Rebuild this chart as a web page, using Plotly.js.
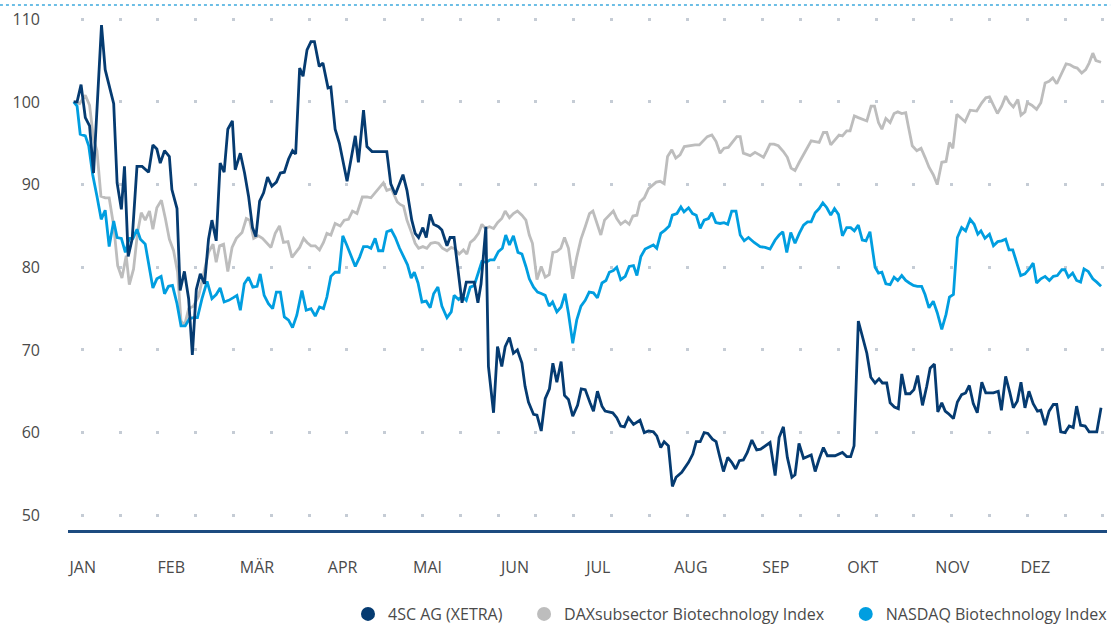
<!DOCTYPE html>
<html>
<head>
<meta charset="utf-8">
<script src="https://cdn.plot.ly/plotly-3.0.1.min.js"></script>
<style>
  html, body { margin: 0; padding: 0; background: #ffffff; }
  #chart { width: 1115px; height: 625px; }
</style>
</head>
<body>
<div id="chart"></div>
<script>
// Month labels (German) and day-of-year of each month start (2016, leap year)
const monthLabels = ["JAN", "FEB", "MÄR", "APR", "MAI", "JUN", "JUL", "AUG", "SEP", "OKT", "NOV", "DEZ"];
const monthStarts = [0, 31, 60, 91, 121, 152, 182, 213, 244, 274, 305, 335];
const yTicks = [50, 60, 70, 80, 90, 100, 110];

const seriesNames = ["4SC AG (XETRA)", "DAXsubsector Biotechnology Index", "NASDAQ Biotechnology Index"];

// 4SC AG (XETRA), indexed, day of year
const days4sc = [2.0,3.2,4.6,6.1,7.6,9.0,10.4,11.8,13.1,14.6,16.1,17.3,18.8,19.9,21.2,22.6,24.3,26.1,28.4,29.9,31.3,32.5,34.0,35.7,36.6,38.4,39.5,41.0,42.5,43.8,45.2,46.6,48.1,49.5,50.7,52.2,53.6,55.0,56.3,57.9,58.9,60.7,62.2,63.6,65.0,66.2,67.5,68.9,70.3,71.8,73.4,74.8,76.2,77.7,79.1,80.2,81.6,82.8,84.2,85.6,86.8,88.5,89.8,91.6,92.6,94.1,95.6,98.3,100.0,101.2,102.3,104.1,105.3,107.1,112.3,113.7,115.3,118.0,119.4,121.1,122.3,123.5,125.0,126.2,127.6,128.8,130.5,131.7,133.5,134.6,136.0,137.2,138.8,140.3,143.1,144.4,145.5,147.2,148.1,149.9,151.3,152.8,154.0,155.5,156.9,158.3,159.9,161.0,162.2,164.0,165.2,166.7,168.1,169.6,170.8,172.2,173.7,174.9,176.3,177.8,179.5,180.8,182.2,183.9,185.1,186.5,188.1,189.2,191.9,193.3,194.7,196.0,197.4,199.2,201.5,203.0,204.5,206.2,207.4,208.8,210.0,211.5,212.9,214.2,216.2,218.6,220.1,221.3,222.7,224.1,225.4,227.0,228.3,229.5,230.9,232.4,233.8,235.2,236.5,237.9,239.3,240.9,242.6,244.0,245.6,247.3,249.1,250.5,252.0,253.4,255.0,256.1,257.5,259.1,261.8,263.2,264.6,266.1,267.5,270.2,272.8,274.3,275.7,276.9,278.4,279.8,281.4,282.8,284.3,285.7,286.9,288.4,289.6,291.1,292.5,293.7,295.1,296.6,298.0,299.3,301.0,302.5,303.7,305.2,306.4,307.8,309.0,310.1,311.9,313.3,314.8,316.2,317.5,318.9,320.3,321.9,323.3,326.0,327.7,328.8,330.3,331.8,333.0,334.4,335.7,337.1,338.5,340.0,341.5,342.7,344.2,345.6,347.1,348.3,349.7,351.2,352.7,354.1,355.3,356.7,358.3,359.7,362.4,363.9];
const values4sc = [100.0,100.0,102.1,98.1,97.1,91.4,100.3,109.3,103.9,101.7,99.8,90.2,87.0,92.2,81.3,83.4,92.2,92.2,91.5,94.8,94.3,92.6,94.1,93.4,89.4,87.1,77.2,79.5,76.2,69.4,77.3,79.2,78.0,83.4,85.7,83.2,92.6,91.5,96.7,97.7,91.8,93.8,91.4,88.6,84.8,83.7,88.0,89.0,90.9,89.8,90.3,91.4,91.5,93.1,94.1,93.7,104.1,103.1,106.3,107.3,107.3,104.3,104.7,101.7,101.8,96.7,95.0,90.4,93.5,95.9,92.7,99.0,94.6,94.0,94.0,90.1,88.8,91.2,89.3,85.7,84.1,83.6,84.8,83.6,86.4,85.2,84.9,84.5,82.6,83.6,83.6,80.1,75.7,78.2,78.2,75.7,78.0,84.9,68.0,62.4,70.4,68.0,70.4,71.5,69.6,70.0,68.4,65.6,63.7,62.2,62.1,60.2,64.1,65.3,68.4,66.1,68.6,64.5,64.0,62.0,63.3,65.3,65.2,63.6,62.6,65.0,63.2,62.6,62.4,61.8,60.8,60.7,61.8,61.0,61.5,60.0,60.2,60.1,59.6,58.2,58.9,58.4,53.5,54.6,55.2,56.4,57.4,58.9,58.9,60.0,59.9,59.2,58.9,57.2,55.3,57.0,56.4,55.6,56.6,56.7,57.6,59.1,57.9,58.0,58.4,58.8,54.8,59.4,60.7,57.0,54.6,54.9,58.7,56.9,57.3,55.3,56.8,58.2,57.2,57.2,57.6,57.1,57.1,58.4,73.5,71.5,69.6,66.7,66.0,66.5,66.0,66.0,63.6,63.1,62.9,67.1,64.7,64.7,65.2,66.9,63.3,65.6,67.8,68.3,62.5,63.6,62.6,62.3,61.7,63.7,64.6,64.8,65.7,63.5,62.4,66.1,64.8,64.8,65.0,62.7,66.8,64.8,63.0,63.8,66.1,63.0,65.0,63.5,62.6,62.7,60.9,62.6,63.4,63.4,60.1,60.0,60.8,60.6,63.2,60.9,60.8,60.1,60.1,63.0];

// DAXsubsector Biotechnology Index, indexed
const daysDax = [2.0,4.1,6.1,7.6,9.0,10.2,11.6,13.1,14.5,16.1,17.5,19.0,20.5,21.6,23.1,24.5,25.8,27.2,28.7,29.9,31.3,32.9,34.3,35.7,37.2,38.6,39.8,41.1,42.5,44.2,46.0,49.5,51.1,52.2,53.4,54.8,56.3,57.8,59.3,61.3,62.8,64.0,65.4,67.1,68.5,69.8,71.5,73.0,74.5,75.9,77.5,78.9,80.3,81.6,83.0,84.2,85.6,87.1,88.6,90.0,91.2,92.6,94.1,95.9,97.3,98.8,100.2,101.8,103.7,105.3,106.7,108.2,109.7,111.1,112.3,113.9,116.0,117.0,118.2,119.4,121.1,122.3,123.5,125.0,126.4,127.8,129.3,130.5,131.9,133.5,135.0,136.4,137.8,139.3,140.5,141.7,143.1,144.6,145.8,147.0,148.5,149.9,151.3,152.8,154.0,155.5,156.9,158.3,159.9,161.3,162.5,163.6,165.2,166.7,168.1,169.5,170.8,172.2,173.6,174.9,176.3,177.8,179.2,180.7,182.2,183.7,184.9,186.3,187.7,189.0,190.6,192.1,193.3,194.7,196.3,197.7,199.0,200.4,201.5,203.0,204.5,205.9,207.2,208.6,210.0,211.2,212.7,214.1,215.6,217.1,218.6,219.7,220.9,222.4,223.8,225.2,226.8,228.3,229.7,231.1,232.6,234.0,235.6,236.8,237.9,240.3,242.0,243.6,245.0,246.2,247.3,248.7,250.2,252.0,253.4,254.7,256.1,257.6,259.1,260.5,261.8,263.2,264.6,266.1,267.3,268.7,270.2,271.6,272.8,274.3,275.5,277.0,278.4,279.8,281.4,282.9,284.1,285.5,286.7,288.1,289.6,291.0,292.3,293.7,295.1,296.0,297.4,299.0,300.5,301.9,303.3,304.8,306.2,307.8,309.3,310.5,311.7,313.1,314.5,316.0,317.8,320.1,321.9,323.3,324.6,326.0,327.4,328.9,330.3,331.6,333.0,334.6,335.7,337.1,337.9,339.5,341.2,342.7,344.2,345.6,346.9,348.3,349.8,351.6,353.0,354.4,355.5,357.1,358.5,359.7,361.0,362.1,363.9];
const valuesDax = [100.0,99.8,100.8,99.6,95.5,94.1,88.6,88.4,88.4,85.0,80.2,78.7,81.4,77.9,79.8,84.2,86.6,85.7,86.8,84.6,87.2,88.1,85.9,83.4,82.0,79.4,73.5,73.0,75.0,75.3,76.5,81.8,82.8,80.6,82.6,82.8,79.5,82.4,83.5,84.2,85.9,85.7,83.5,83.8,83.5,83.0,82.4,84.1,85.0,83.0,83.1,81.2,81.9,82.4,83.5,83.0,82.6,82.6,82.1,83.0,84.1,83.9,85.3,85.0,85.7,85.8,86.8,86.5,88.5,88.5,88.4,89.0,89.7,90.2,89.3,89.5,87.9,87.6,87.4,85.7,84.1,82.9,82.3,82.5,82.3,82.9,83.0,82.9,82.3,82.0,82.4,82.2,81.6,82.1,81.6,83.0,83.4,84.1,85.2,84.7,84.9,84.7,85.4,85.9,86.8,86.0,86.5,86.8,86.3,85.7,83.9,82.9,78.5,80.1,78.8,79.1,81.8,81.9,82.3,83.6,82.3,78.6,81.2,83.4,84.9,86.5,86.8,85.3,83.9,85.7,86.3,86.8,85.9,85.2,85.6,85.2,86.2,86.3,87.9,88.4,89.5,89.9,90.3,90.4,90.1,93.4,94.2,93.2,93.6,94.6,94.7,94.8,94.8,94.8,95.3,95.8,96.0,95.2,93.8,94.4,94.5,95.1,95.8,95.8,93.8,93.5,93.9,93.6,93.3,94.1,94.9,94.9,94.7,94.0,93.3,92.0,91.7,92.7,93.6,94.6,95.3,95.2,95.1,96.3,96.3,94.8,95.4,96.0,95.9,96.5,96.5,98.3,98.1,97.9,97.7,99.5,99.5,97.5,96.7,98.0,97.5,98.6,98.8,98.6,98.7,97.1,94.7,94.1,94.4,93.3,92.1,91.2,90.0,92.7,92.8,95.1,94.4,98.5,98.1,97.6,99.0,98.9,99.9,100.5,100.6,99.5,98.6,99.5,100.7,99.9,99.4,100.3,98.4,98.8,99.9,99.6,99.1,99.9,102.3,102.5,102.9,102.2,103.3,104.6,104.5,104.2,104.1,103.5,103.9,104.7,105.9,105.0,104.8];

// NASDAQ Biotechnology Index, indexed
const daysNbi = [2.0,3.2,4.3,6.1,7.3,8.7,10.2,11.7,13.1,14.5,16.1,17.3,18.8,20.2,21.6,22.9,24.3,25.5,27.2,28.4,29.9,31.3,32.8,34.0,35.4,36.8,38.4,39.8,41.3,42.8,44.2,45.6,47.2,49.0,50.7,52.2,53.6,55.0,56.6,58.1,59.5,60.7,62.1,63.6,65.1,66.6,67.7,69.1,70.6,72.1,73.4,74.8,76.2,77.7,79.1,80.6,82.4,83.9,85.6,87.1,88.6,90.0,91.2,92.6,94.1,95.5,96.8,98.3,99.7,101.2,102.7,104.1,105.5,106.7,108.2,109.4,110.9,112.3,113.9,115.3,116.8,118.2,119.6,120.9,122.0,123.3,124.7,126.2,127.6,128.8,130.3,131.7,133.5,135.0,136.0,137.6,138.8,140.3,141.7,143.1,144.6,145.8,147.3,148.7,150.1,151.6,153.0,154.2,155.5,156.9,158.5,159.9,161.3,162.5,164.0,165.4,166.9,168.1,169.5,170.7,172.2,173.7,175.1,176.3,177.8,179.2,180.7,182.2,183.6,185.1,186.5,188.1,189.5,190.7,192.1,193.3,194.7,196.3,197.7,199.2,200.4,201.8,203.3,204.8,206.2,207.4,208.8,210.3,211.8,212.9,214.5,215.9,217.0,218.6,220.0,221.3,222.7,224.1,225.6,226.8,228.2,229.7,231.1,232.4,233.8,235.3,236.8,238.2,239.7,241.7,243.8,245.6,247.3,249.1,250.5,251.8,253.2,254.6,256.1,257.6,259.1,260.5,261.8,263.2,264.6,265.9,267.3,268.7,270.0,271.4,272.8,274.3,275.7,277.0,278.4,279.8,281.1,282.5,284.3,285.5,286.7,288.1,289.6,291.0,292.3,293.7,295.1,296.4,297.8,299.2,300.7,301.9,303.3,304.8,306.2,307.8,309.3,310.5,311.9,313.3,314.8,316.2,317.8,319.2,320.5,321.6,323.0,324.6,326.0,327.5,328.9,330.3,331.5,332.8,334.2,335.6,337.1,338.6,340.0,341.2,342.7,344.2,345.7,347.1,348.5,350.1,351.2,352.4,353.9,355.3,356.7,357.9,359.4,361.0,362.4,363.9];
const valuesNbi = [100.0,99.5,96.1,95.9,94.7,91.2,88.6,85.8,86.9,82.5,85.6,83.6,83.5,81.8,83.5,83.5,84.6,83.4,82.8,80.6,77.5,78.6,78.9,76.8,77.7,77.8,75.6,72.9,72.9,73.8,73.9,73.9,76.2,78.3,76.2,76.7,77.5,75.8,76.0,76.3,76.6,74.8,78.0,78.8,77.6,77.7,79.2,76.6,75.6,75.0,77.0,77.0,74.0,73.6,72.7,74.2,77.2,74.8,75.0,74.1,75.2,75.0,76.4,78.9,79.4,79.4,83.8,82.6,81.4,80.1,81.2,82.5,82.5,82.3,83.5,82.0,82.0,84.3,84.5,83.6,82.3,81.3,80.3,78.7,79.4,78.1,75.8,75.9,75.1,76.8,77.6,75.3,73.9,74.6,76.6,76.1,76.5,76.0,77.6,77.8,79.5,80.7,80.6,80.9,80.9,81.9,82.3,83.9,82.7,83.8,81.8,81.6,80.1,78.6,77.6,77.0,76.8,76.6,75.3,75.8,74.6,75.2,76.8,74.4,70.8,73.6,75.3,76.0,77.0,76.9,76.3,78.1,78.4,79.4,79.6,80.0,78.5,78.9,80.1,80.2,79.0,81.3,82.2,82.5,82.7,82.3,84.1,84.5,85.0,86.3,86.5,87.3,86.7,87.2,86.5,86.3,84.7,85.7,85.9,86.6,85.4,85.3,85.4,85.2,86.8,86.8,83.9,83.2,83.6,83.0,82.5,82.4,82.2,83.3,83.9,84.3,81.8,84.2,82.9,84.1,85.1,85.5,85.5,86.6,87.1,87.8,87.2,86.3,87.1,86.4,83.8,84.8,84.8,84.4,85.1,83.3,83.2,84.3,80.0,79.3,79.4,78.0,77.9,78.8,78.4,79.0,78.4,78.1,77.8,77.7,77.7,76.7,75.1,75.9,74.5,72.5,74.3,76.4,76.7,83.6,84.8,84.4,85.8,85.2,84.0,84.4,83.5,84.0,82.6,83.1,83.2,83.4,82.1,82.1,80.4,79.0,79.2,79.8,80.5,78.1,78.6,78.9,78.4,78.9,79.0,79.7,79.7,78.8,79.3,78.4,78.2,79.8,79.5,78.6,78.2,77.7];

const colors = ["#053b71", "#bdbdbd", "#009ee0"];
const legendPad = "\u00a0\u00a0\u00a0\u00a0";

const lineTraces = [
  { x: daysDax, y: valuesDax, color: colors[1] },
  { x: daysNbi, y: valuesNbi, color: colors[2] },
  { x: days4sc, y: values4sc, color: colors[0] }
].map(s => ({
  type: "scatter", mode: "lines", x: s.x, y: s.y,
  line: { color: s.color, width: 2.8, shape: "linear" },
  showlegend: false, hoverinfo: "skip"
}));

const legendTraces = seriesNames.map((n, i) => ({
  type: "scatter", mode: "markers", x: [null], y: [null],
  name: i < seriesNames.length - 1 ? n + legendPad : n,
  marker: { color: colors[i], size: 14, symbol: "circle" },
  showlegend: true
}));

const layout = {
  width: 1115, height: 625,
  margin: { l: 68, r: 8, t: 10, b: 95, pad: 0, autoexpand: false },
  paper_bgcolor: "#ffffff", plot_bgcolor: "#ffffff",
  font: { family: "Open Sans, Noto Sans, sans-serif", size: 16, color: "#4a4a4a" },
  showlegend: true,
  legend: {
    orientation: "h", xref: "container", yref: "container",
    x: 0.9982, xanchor: "right", y: 0.0176, yanchor: "middle",
    font: { size: 16, color: "#4a4a4a" }, itemwidth: 30, traceorder: "normal",
    bgcolor: "rgba(0,0,0,0)"
  },
  xaxis: {
    type: "linear", range: [0, 366], fixedrange: true,
    tickmode: "array", tickvals: monthStarts, ticktext: monthLabels,
    ticklabelposition: "outside right", ticks: "", ticklabelstandoff: 21,
    showgrid: false, zeroline: false,
    showline: true, linecolor: "#1d4b80", linewidth: 3,
    tickfont: { size: 16, color: "#4a4a4a" }
  },
  yaxis: {
    range: [48.22, 111.12], fixedrange: true,
    tickmode: "array", tickvals: yTicks,
    ticks: "", ticklabelstandoff: 27,
    showgrid: true, gridcolor: "#c5ccd5", gridwidth: 3, griddash: "0px,12.8px,3px,22px",
    zeroline: false, showline: false,
    tickfont: { size: 16, color: "#4a4a4a" }
  },
  shapes: [{
    type: "line", xref: "paper", yref: "paper",
    x0: -0.0655, x1: 1.003, y0: 1.0096, y1: 1.0096,
    line: { color: "#3ea9dd", width: 1.5, dash: "dot" }
  }],
  hovermode: false
};

Plotly.newPlot("chart", lineTraces.concat(legendTraces), layout, { displayModeBar: false, staticPlot: true });
</script>
</body>
</html>
